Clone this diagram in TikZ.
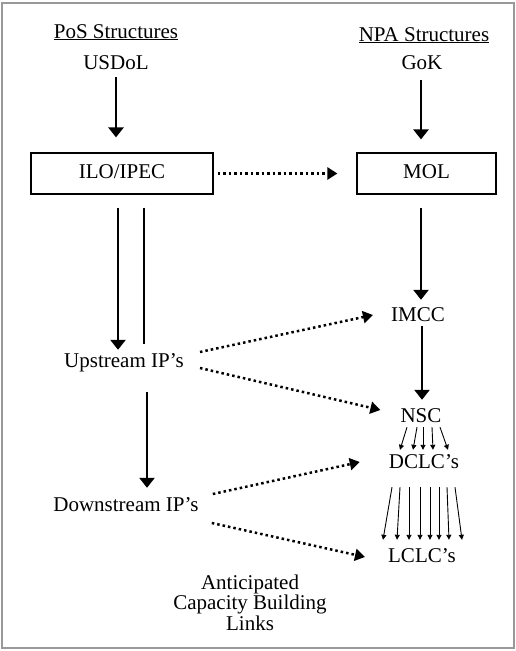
\documentclass[tikz,border=0pt]{standalone}
\usepackage{fontspec}
\setmainfont{Liberation Serif}
\usetikzlibrary{arrows.meta,calc}

\begin{document}
\begin{tikzpicture}[x=1pt,y=-1pt,
    every node/.style={font=\fontsize{21}{20.5}\selectfont, inner sep=0pt},
    lbl/.style={text height=14pt, text depth=4pt},
    unit/.style={lbl, draw, line width=1.2pt, minimum height=41pt},
    bigarrow/.style={line width=2.6pt, -{Triangle[width=15pt,length=10pt]}},
    bigline/.style={line width=2.6pt},
    dotarrow/.style={line width=2.5pt, dash pattern=on 2.5pt off 3pt, -{Triangle[width=12pt,length=10pt]}},
    thinarrow/.style={line width=0.9pt, -{Triangle[width=5pt,length=5pt]}}]
  \useasboundingbox (0,0) rectangle (516,651);
  % Frame
  \draw[black!40, line width=2pt] (2,3) rectangle (514,648);

  % Left column: PoS structures
  \node[lbl] (pos) at (116,33) {\underline{PoS Structures}};
  \node[lbl] (usdol) at (116,64.5) {USDoL};
  \node[unit, minimum width=182pt] (ilo) at (122,173.5) {ILO/IPEC};
  \node[lbl] (upstream) at (124,362.5) {Upstream IP's};
  \node[lbl] (downstream) at (126,506.5) {Downstream IP's};

  % Right column: NPA structures
  \node[lbl] (npa) at (424,36) {\underline{NPA Structures}};
  \node[lbl] (gok) at (422,64.5) {GoK};
  \node[unit, minimum width=139pt] (mol) at (426.5,173.5) {MOL};
  \node[lbl] (imcc) at (418,316.5) {IMCC};
  \node[lbl] (nsc) at (421,417.5) {NSC};
  \node[lbl] (dclc) at (424,463.5) {DCLC's};
  \node[lbl] (lclc) at (422,557.5) {LCLC's};

  \node[align=center] (links) at (250,602.5) {Anticipated\\Capacity Building\\Links};

  % Draw the solid links
  \draw[bigarrow] ($(usdol.south)+(0,3.5)$) -- ($(usdol.south|-ilo.north)+(0,-15)$);
  \draw[bigarrow] ($(gok.south)+(-1,6.5)$) -- ($(gok.south|-mol.north)+(-1,-13)$);
  \draw[bigarrow] ($(ilo.south)+(-4,13)$) -- ($(ilo.south|-upstream.north)+(-4,-3.5)$);
  \draw[bigline] ($(ilo.south)+(22,13)$) -- ($(ilo.south|-upstream.north)+(22,-9.5)$);
  \draw[bigarrow] ($(mol.south)+(-5.5,13)$) -- ($(mol.south|-imcc.north)+(-5.5,-7.5)$);
  \draw[bigarrow] ($(imcc.south)+(4,0.5)$) -- ($(imcc.south|-nsc.north)+(4,-8.5)$);
  \draw[bigarrow] ($(upstream.south)+(23,20.5)$) -- ($(upstream.south|-downstream.north)+(23,-9.5)$);

  % Draw the dotted links
  \draw[dotarrow] ($(ilo.east)+(4,0)$) -- ($(mol.west)+(-19,0)$);
  \draw[dotarrow] ($(upstream.east)+(16,-10.5)$) -- ($(imcc.west)+(-18,-1.5)$);
  \draw[dotarrow] ($(upstream.east)+(16,5.5)$) -- ($(nsc.west)+(-20,-7.5)$);
  \draw[dotarrow] ($(downstream.east)+(14,-12.5)$) -- ($(dclc.west)+(-29,-1.5)$);
  \draw[dotarrow] ($(downstream.east)+(13,16.5)$) -- ($(lclc.west)+(-23,-0.5)$);

  % Fan out to the committees
  \foreach \a/\b in {-14/-24,-4/-11,2/-1,11/9,19/24}
    \draw[thinarrow] ($(nsc.south)+(\a,0.5)$) -- ($(dclc.north)+(\b,-4.5)$);
  \foreach \a/\b in {-32/-39,-24/-25,-15/-13,-4/-2,6/8,15/17,23/27,31/40}
    \draw[thinarrow] ($(dclc.south)+(\a,14.5)$) -- ($(lclc.north)+(\b,-8.5)$);
\end{tikzpicture}
\end{document}
